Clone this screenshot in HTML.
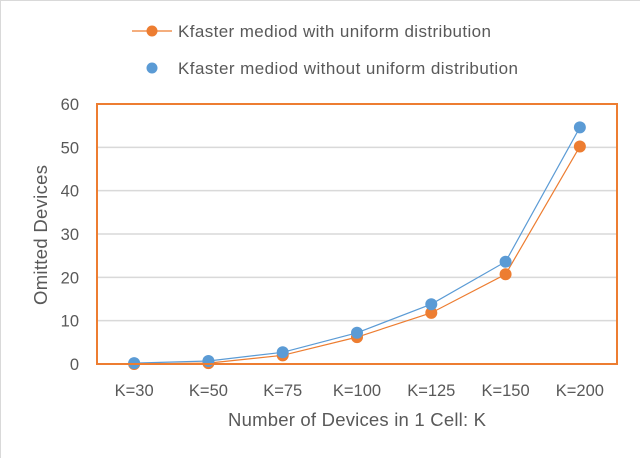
<!DOCTYPE html>
<html><head><meta charset="utf-8"><style>
body{margin:0;background:#fff;}
svg{display:block;font-family:"Liberation Sans",sans-serif;}
</style></head><body>
<svg id="chart" width="640" height="458" viewBox="0 0 640 458">
<rect x="0.5" y="0.5" width="660" height="470" fill="#fff" stroke="#d9d9d9"/>
<g id="grid"></g>
<g id="series"></g>
<rect x="97" y="104" width="520" height="260" fill="none" stroke="#ed7d31" stroke-width="2"/>
<g id="axes"></g>
<g>
<g>
<line x1="132" y1="31" x2="172" y2="31" stroke="#ed7d31" stroke-width="1.2"/>
<circle cx="152" cy="31" r="5.5" fill="#ed7d31"/>
<text x="178" y="37" font-size="17" textLength="313" fill="#595959">Kfaster mediod with uniform distribution</text>
</g>
<g>
<circle cx="152" cy="68" r="5.5" fill="#5b9bd5"/>
<text x="178" y="74" font-size="17" textLength="340" fill="#595959">Kfaster mediod without uniform distribution</text>
</g>
</g>
<text transform="translate(47,235) rotate(-90)" text-anchor="middle" font-size="18.5" textLength="140" fill="#595959">Omitted Devices</text>
<text x="357" y="426" text-anchor="middle" font-size="18.5" textLength="258" fill="#595959">Number of Devices in 1 Cell: K</text>
</svg>
<script>
const categories = ["K=30","K=50","K=75","K=100","K=125","K=150","K=200"];
const withUniform = [0, 0.2, 2, 6.2, 11.8, 20.7, 50.2];
const withoutUniform = [0.2, 0.7, 2.7, 7.2, 13.8, 23.6, 54.6];
const yTicks = [0, 10, 20, 30, 40, 50, 60];

const NS = "http://www.w3.org/2000/svg";
const L = 97, R = 617, T = 104, B = 364, YMAX = 60;
function xPos(i){ return L + (R - L) / categories.length * (i + 0.5); }
function yPos(v){ return B - (B - T) * v / YMAX; }
function mk(tag, attrs, parent){ const e = document.createElementNS(NS, tag); for (const k in attrs) e.setAttribute(k, attrs[k]); parent.appendChild(e); return e; }

const grid = document.getElementById("grid");
const axes = document.getElementById("axes");
const series = document.getElementById("series");

yTicks.forEach(t => {
  if (t > 0 && t < YMAX) {
    const g = mk("line", {x1: L, x2: R, y1: yPos(t), y2: yPos(t), stroke: "#d9d9d9", "stroke-width": 1.5}, grid);
    
    
  }
  const lb = mk("text", {x: 79, y: yPos(t) + 6, "text-anchor": "end", "font-size": 16.5, fill: "#595959"}, axes);
  lb.textContent = t;
  
  
});
categories.forEach((c, i) => {
  const lb = mk("text", {x: xPos(i), y: 396, "text-anchor": "middle", "font-size": 16.5, fill: "#595959"}, axes);
  lb.textContent = c;
  
  
});

function drawSeries(vals, color, name){
  const g = mk("g", {}, series);
  
  
  const pts = vals.map((v, i) => xPos(i) + "," + yPos(v)).join(" ");
  const pl = mk("polyline", {points: pts, fill: "none", stroke: color, "stroke-width": 1.2}, g);
  
  
  vals.forEach((v, i) => {
    const c = mk("circle", {cx: xPos(i), cy: yPos(v), r: 6, fill: color}, g);
    
    
  });
}
drawSeries(withUniform, "#ed7d31", "series-with-uniform");
drawSeries(withoutUniform, "#5b9bd5", "series-without-uniform");
</script>
</body></html>
